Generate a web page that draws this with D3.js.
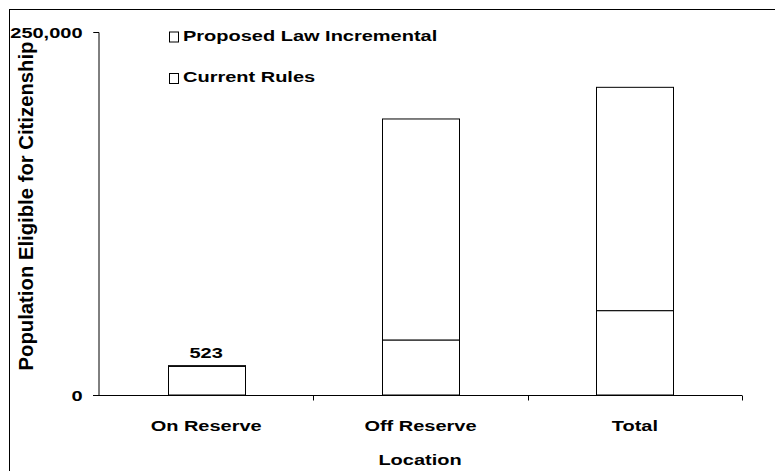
<!DOCTYPE html>
<html>
<head>
<meta charset="utf-8">
<script src="https://cdn.jsdelivr.net/npm/d3@7/dist/d3.min.js"></script>
<style>
  html, body { margin: 0; padding: 0; background: #fff; }
  svg { display: block; }
  text { font-family: "Liberation Sans", Arial, sans-serif; font-weight: bold; fill: #000; }
</style>
</head>
<body>
<svg id="chart" width="775" height="471"></svg>
<script>
const categories = ["On Reserve", "Off Reserve", "Total"];
const currentRules = [19700, 37900, 58100];
const proposedIncremental = [523, 152200, 153800];
const seriesNames = ["Proposed Law Incremental", "Current Rules"];
const yTicks = [0, 250000];
const barLabels = ["523", null, null];

const svg = d3.select("#chart");
const W = 775, H = 471;
const margin = { left: 98, right: 33, top: 32, bottom: 76 };
const FS = "15.5px";      // horizontal text size
const SX = 1.29;          // horizontal stretch of the original rendering

// outer frame
svg.append("rect").attr("x", 9.5).attr("y", 9.5)
  .attr("width", W + 10).attr("height", H + 10)
  .attr("fill", "none").attr("stroke", "#000").attr("stroke-width", 1);

const x = d3.scaleBand().domain(categories)
  .range([margin.left + 1, W - margin.right]).padding(0);
const y = d3.scaleLinear().domain([0, 250000])
  .range([H - margin.bottom, margin.top]);

const barFrac = 0.36;
const data = categories.map((c, i) => ({
  cat: c,
  cur: currentRules[i],
  inc: proposedIncremental[i],
  label: barLabels[i]
}));

const g = svg.append("g");
const bw = x.bandwidth() * barFrac;
const bx = d => Math.round(x(d.cat) + x.bandwidth() / 2 - bw / 2) + 0.5;

// current rules segments
g.selectAll(".cur").data(data).enter().append("rect")
  .attr("x", bx)
  .attr("y", d => y(d.cur))
  .attr("width", Math.round(bw))
  .attr("height", d => y(0) - y(d.cur))
  .attr("fill", "#fff").attr("stroke", "#000").attr("stroke-width", 1);

// incremental segments
g.selectAll(".inc").data(data).enter().append("rect")
  .attr("x", bx)
  .attr("y", d => y(d.cur + d.inc))
  .attr("width", Math.round(bw))
  .attr("height", d => y(d.cur) - y(d.cur + d.inc))
  .attr("fill", "#fff").attr("stroke", "#000").attr("stroke-width", 1);

// bar labels
g.selectAll(".blab").data(data.filter(d => d.label !== null)).enter()
  .append("text")
  .attr("transform", d => `translate(${x(d.cat) + x.bandwidth() / 2},${y(d.cur + d.inc) - 8}) scale(${SX},1)`)
  .attr("text-anchor", "middle")
  .attr("font-size", FS)
  .text(d => d.label);

// y axis
const yAxis = d3.axisLeft(y).tickValues(yTicks)
  .tickFormat(d3.format(",")).tickSize(5);
const ya = svg.append("g").attr("transform", `translate(${margin.left + 0.5},0)`).call(yAxis);
ya.select(".domain").attr("stroke", "#000");
ya.selectAll(".tick line").attr("stroke", "#000");
ya.selectAll("text")
  .attr("x", 0).attr("dy", "0.36em")
  .attr("transform", `translate(-16,0) scale(${SX},1)`)
  .attr("font-size", FS)
  .style("font-family", '"Liberation Sans", Arial, sans-serif').style("font-weight", "bold");

// x axis with ticks at band boundaries
const xa = svg.append("g").attr("transform", `translate(0,${y(0) + 0.5})`);
xa.append("line").attr("x1", margin.left - 5).attr("x2", W - margin.right)
  .attr("y1", 0).attr("y2", 0).attr("stroke", "#000");
const bounds = categories.map(c => x(c)).concat([x(categories[categories.length - 1]) + x.bandwidth()]);
xa.selectAll(".xt").data(bounds.slice(1)).enter().append("line")
  .attr("x1", d => Math.round(d) + 0.5).attr("x2", d => Math.round(d) + 0.5)
  .attr("y1", 0).attr("y2", 5).attr("stroke", "#000");
xa.selectAll(".xl").data(categories).enter().append("text")
  .attr("transform", d => `translate(${x(d) + x.bandwidth() / 2},35) scale(${SX},1)`)
  .attr("text-anchor", "middle").attr("font-size", FS)
  .text(d => d);

// axis titles
svg.append("text")
  .attr("transform", `translate(${(margin.left + W - margin.right) / 2},465) scale(${SX},1)`)
  .attr("text-anchor", "middle").attr("font-size", FS).text("Location");
svg.append("text")
  .attr("transform", `translate(33,206) rotate(-90)`)
  .attr("text-anchor", "middle").attr("font-size", "20.3px")
  .text("Population Eligible for Citizenship");

// legend
const leg = svg.append("g");
seriesNames.forEach((s, i) => {
  const ly = 40.5 + i * 41.5;
  leg.append("rect").attr("x", 169.5).attr("y", ly - 8.5)
    .attr("width", 9).attr("height", 10)
    .attr("fill", "#fff").attr("stroke", "#000");
  leg.append("text")
    .attr("transform", `translate(183,${ly}) scale(${SX},1)`)
    .attr("font-size", FS).text(s);
});
</script>
</body>
</html>
